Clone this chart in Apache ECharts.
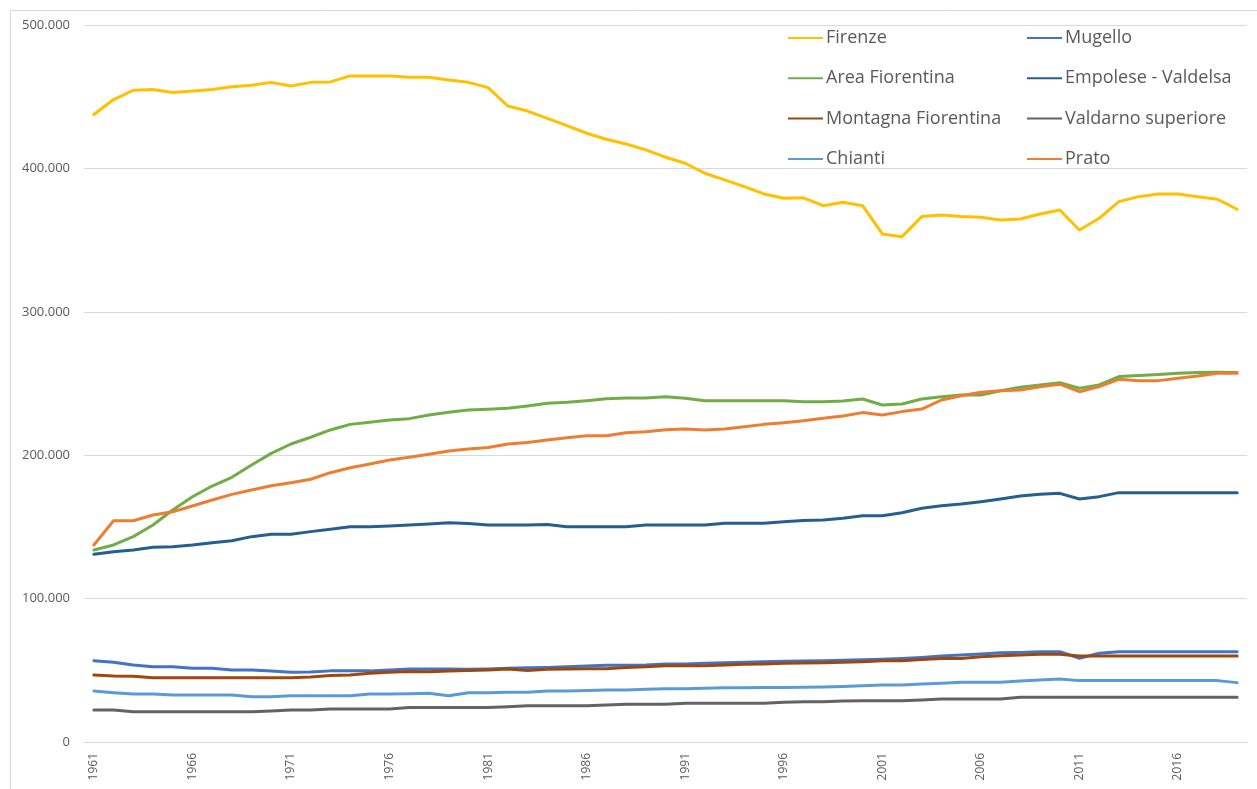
<!DOCTYPE html>
<html>
<head>
<meta charset="utf-8">
<script src="https://cdn.jsdelivr.net/npm/echarts@6/dist/echarts.min.js"></script>
<style>
html,body{margin:0;padding:0;background:#fff;}
#chart{width:1257px;height:789px;}
</style>
</head>
<body>
<div id="chart"></div>
<script>
var years = [];
for (var y = 1961; y <= 2019; y++) years.push(String(y));

var seriesNames = ['Firenze','Mugello','Area Fiorentina','Empolese - Valdelsa','Montagna Fiorentina','Valdarno superiore','Chianti','Prato'];
var legendCol1 = ['Firenze','Area Fiorentina','Montagna Fiorentina','Chianti'];
var legendCol2 = ['Mugello','Empolese - Valdelsa','Valdarno superiore','Prato'];
var colors = ['#FFC000','#4472C4','#70AD47','#255E91','#9E480E','#636363','#5B9BD5','#ED7D31'];

var firenze = [437600,448000,454500,455000,453000,454000,455000,457000,458000,460000,
457500,460000,460300,464500,464500,464500,463500,463500,461700,460000,
456300,443500,440000,434900,429800,424500,420300,417000,412900,407800,
403600,396600,392000,387300,382200,379200,379500,374000,376400,374000,
354300,352400,366400,367500,366400,366000,364000,364700,368200,371000,
357000,365200,376800,380300,382200,382200,380300,378500,371500];

var mugello = [56700,55600,53700,52500,52500,51400,51400,50200,50200,49500,
48600,48800,49600,49600,49600,50200,50900,50900,50900,50700,
50900,51400,51800,52000,52500,53000,53500,53500,53700,54400,
54400,54900,55300,55600,56000,56300,56400,56600,57000,57300,
57700,58300,59000,60000,60700,61400,62300,62500,63000,63000,
58400,61900,63000,63000,63000,63000,63000,63000,63000];

var areaFiorentina = [133900,137400,143200,151300,161800,171000,178500,184600,193200,201300,
207800,212500,217600,221500,223000,224600,225500,228000,229900,231500,
232000,232700,234300,236200,236900,238000,239400,239900,239900,240800,
239700,238000,238000,238000,238000,238000,237300,237300,237800,239200,
235000,235700,239200,240800,242000,242000,245000,247400,249000,250600,
246700,249000,254800,255500,256200,257200,257600,257800,257600];

var empolese = [130900,132700,133900,135800,136200,137400,139000,140400,143200,144900,
144900,146700,148300,150100,150100,150600,151300,152000,152900,152400,
151300,151300,151300,151700,150100,150100,150100,150100,151300,151300,
151300,151300,152500,152500,152500,153600,154500,154800,156000,157800,
157800,159900,163000,164800,166000,167600,169500,171600,172700,173400,
169500,171100,173900,173900,173900,173900,173900,173900,173900];

var montagna = [46700,46000,45800,44800,44800,44800,44800,44800,44800,44800,
44800,45300,46300,46700,47900,48600,49200,49000,49500,49800,
50200,50900,49800,50700,50900,51100,51100,52000,52500,53200,
53200,53200,53700,54200,54400,54900,55100,55300,55600,56000,
56700,56700,57600,58300,58300,59500,60200,60700,61200,61200,
60000,60000,60000,60000,60000,60000,60000,60000,60000];

var valdarno = [22300,22300,21100,21100,21100,21100,21100,21100,21100,21600,
22300,22300,23000,23000,23000,23000,24000,24000,24000,24000,
24000,24600,25300,25300,25300,25300,25800,26300,26300,26300,
27000,27000,27000,27000,27000,27800,28000,28100,28600,28800,
28800,28800,29300,30000,30000,30000,30000,31200,31200,31200,
31200,31200,31200,31200,31200,31200,31200,31200,31200];

var chianti = [35600,34400,33500,33500,32800,32800,32800,32800,31600,31600,
32300,32300,32300,32300,33500,33500,33700,34000,32300,34400,
34400,34700,34700,35600,35600,35900,36300,36300,36700,37200,
37200,37400,37800,37900,38000,38000,38200,38400,38700,39300,
39800,39800,40500,40900,41600,41600,41600,42500,43200,43900,
42800,42800,42800,42800,42800,42800,42800,42800,41400];

var prato = [137400,154300,154300,158300,160600,164600,168800,172700,175700,178700,
180800,183200,187800,191300,193900,196700,198600,200600,202900,204300,
205300,207800,208800,210600,212200,213600,213600,215700,216400,217800,
218300,217600,218300,219900,221500,222700,224000,225700,227400,229700,
228000,230400,232200,238500,241500,243900,244900,245500,247800,249500,
244300,247800,252900,252000,252000,253600,255200,257200,257200];

var seriesData = [firenze, mugello, areaFiorentina, empolese, montagna, valdarno, chianti, prato];

function fmt(v) {
  return String(v).replace(/\B(?=(\d{3})+(?!\d))/g, '.');
}

var FONT = "'Open Sans', 'Noto Sans', sans-serif";
var chart = echarts.init(document.getElementById('chart'), null, {renderer: 'canvas'});

var legendBase = {
  orient: 'vertical',
  top: 29,
  padding: 0,
  itemGap: 22.3,
  itemWidth: 35,
  itemHeight: 14,
  icon: 'path://M0,6 L35,6 L35,8 L0,8 Z',
  textStyle: {fontSize: 18, color: '#595959', fontFamily: FONT, padding: [0, 0, 0, -2]},
  selectedMode: false
};

var series = seriesNames.map(function (name, i) {
  return {
    name: name,
    type: 'line',
    data: seriesData[i],
    symbol: 'none',
    smooth: false,
    lineStyle: {width: 3, color: colors[i], cap: 'round', join: 'round'},
    itemStyle: {color: colors[i]},
    emphasis: {disabled: true},
    animation: false
  };
});

chart.setOption({
  animation: false,
  color: colors,
  graphic: [{
    type: 'rect',
    left: 8, top: 8,
    shape: {x: 0, y: 0, width: 1262, height: 800},
    style: {fill: 'none', stroke: '#d9d9d9', lineWidth: 1},
    silent: true
  }],
  grid: {left: 84, right: 10, top: 25, bottom: 47, containLabel: false},
  legend: [
    Object.assign({}, legendBase, {left: 788, data: legendCol1}),
    Object.assign({}, legendBase, {left: 1027, data: legendCol2})
  ],
  xAxis: {
    type: 'category',
    data: years,
    boundaryGap: true,
    axisLine: {show: true, lineStyle: {color: '#d9d9d9', width: 1}},
    axisTick: {show: false},
    axisLabel: {
      interval: 4,
      rotate: 90,
      margin: 11,
      fontSize: 12,
      color: '#595959',
      fontFamily: FONT
    },
    splitLine: {show: false}
  },
  yAxis: {
    type: 'value',
    min: 0,
    max: 500000,
    interval: 100000,
    axisLine: {show: false},
    axisTick: {show: false},
    axisLabel: {
      formatter: fmt,
      fontSize: 13,
      color: '#595959',
      fontFamily: FONT,
      margin: 14
    },
    splitLine: {lineStyle: {color: '#d9d9d9', width: 1}}
  },
  series: series
});
</script>
</body>
</html>
